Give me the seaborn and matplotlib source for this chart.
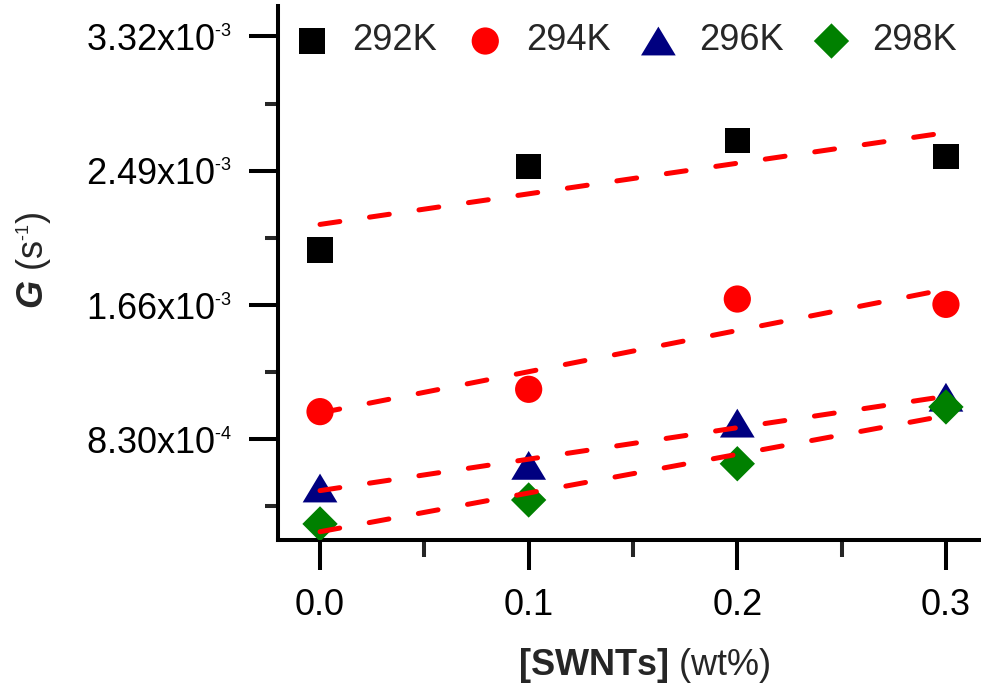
import numpy as np
import pandas as pd
import matplotlib
matplotlib.use("Agg")
import matplotlib.pyplot as plt
import matplotlib._mathtext as _mt
import seaborn as sns

# ---- data ----
swnts = [0.0, 0.1, 0.2, 0.3]
series_labels = ["292K", "294K", "296K", "298K"]
g_292 = [2.000e-3, 2.515e-3, 2.675e-3, 2.577e-3]
g_294 = [1.001e-3, 1.139e-3, 1.697e-3, 1.664e-3]
g_296 = [5.29e-4, 6.69e-4, 9.30e-4, 1.090e-3]
g_298 = [3.07e-4, 4.55e-4, 6.79e-4, 1.030e-3]
y_ticks = [8.30e-4, 1.66e-3, 2.49e-3, 3.32e-3]
y_tick_labels = ["8.30x10$^{\\mathregular{\u20104}}$", "1.66x10$^{\\mathregular{\u20103}}$",
                 "2.49x10$^{\\mathregular{\u20103}}$", "3.32x10$^{\\mathregular{\u20103}}$"]
x_ticks = [0.0, 0.1, 0.2, 0.3]
x_tick_labels = ["0.0", "0.1", "0.2", "0.3"]

try:
    _mt.SHRINK_FACTOR = 0.5
except Exception:
    pass

sns.set_theme(style="ticks")
plt.rcParams["font.family"] = ["Liberation Sans", "DejaVu Sans"]
plt.rcParams["mathtext.fontset"] = "custom"
plt.rcParams["mathtext.rm"] = "Liberation Sans"
plt.rcParams["mathtext.it"] = "Liberation Sans:italic"
plt.rcParams["mathtext.bf"] = "Liberation Sans:bold"
plt.rcParams["mathtext.sf"] = "Liberation Sans:bold:italic"

fig = plt.figure(figsize=(9.81, 6.86), dpi=100)
ax = fig.add_axes([278.3 / 981, 1 - 540 / 686, 1 - 278.3 / 981, (540 - 6) / 686])

series = [g_292, g_294, g_296, g_298]
colors = ["#000000", "#FF0000", "#000080", "#008000"]
tri = [(0, 0.83), (-1, -0.83), (1, -0.83)]
markers = ["s", "o", tri, "D"]
sizes = [18.2 ** 2, 19.6 ** 2, 25 ** 2, 18.0 ** 2]

for vals, lab, c, m, s in zip(series, series_labels, colors, markers, sizes):
    df = pd.DataFrame({"x": swnts, "y": vals})
    sns.scatterplot(data=df, x="x", y="y", color=c, marker=m, s=s,
                    edgecolor="none", linewidth=0, label=lab, ax=ax, zorder=3)

for vals in series:
    df = pd.DataFrame({"x": swnts, "y": vals})
    sns.regplot(data=df, x="x", y="y", scatter=False, ci=None, ax=ax,
                line_kws=dict(color="#FF0000", lw=3.6, ls=(0, (4, 6)),
                              dash_capstyle="round", zorder=4))

ax.set_xlim(-0.0200, 0.3168)
ax.set_ylim(2.077e-4, 3.508e-3)

ax.set_xticks(x_ticks)
ax.set_xticklabels(x_tick_labels)
ax.set_xticks([0.05, 0.15, 0.25], minor=True)
ax.set_yticks(y_ticks)
ax.set_yticklabels(y_tick_labels)
ax.set_yticks([4.15e-4, 1.245e-3, 2.075e-3, 2.905e-3], minor=True)

for side in ["top", "right"]:
    ax.spines[side].set_visible(False)
for side in ["left", "bottom"]:
    ax.spines[side].set_linewidth(2.9)
    ax.spines[side].set_color("black")

ax.tick_params(axis="both", which="major", direction="out", width=2.9,
               labelsize=26, colors="black")
ax.tick_params(axis="y", which="major", length=21, pad=12)
ax.tick_params(axis="y", which="minor", length=9.6, width=2.9, direction="out")
ax.tick_params(axis="x", which="major", length=21.6, pad=13)
ax.tick_params(axis="x", which="minor", length=12.5, width=2.9, direction="out")

ax.set_xlabel("$\\mathbf{[SWNTs]}$ (wt%)", fontsize=26)
ax.xaxis.set_label_coords(0.5204, -0.1985)
ax.set_ylabel("$\\mathsf{G}$ (s$^{\\mathregular{\u20101}}$)", fontsize=26)
ax.yaxis.set_label_coords(-0.32, 0.524)

ax.grid(False)
ax.set_facecolor("white")
fig.patch.set_facecolor("white")

leg = ax.legend(ncol=4, loc="center left",
                bbox_to_anchor=(294 / 981, 1 - 41 / 686),
                bbox_transform=fig.transFigure, frameon=False,
                fontsize=26, handlelength=1.0, handletextpad=0.62,
                columnspacing=0.83, borderpad=0, borderaxespad=0,
                markerscale=1.0)

fig.savefig("out.png", dpi=100)
